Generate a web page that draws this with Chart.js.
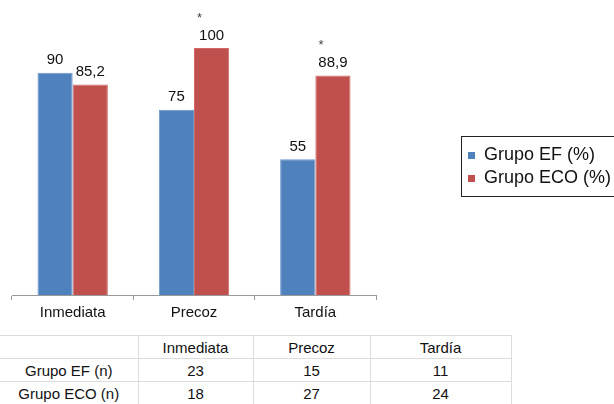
<!DOCTYPE html>
<html>
<head>
<meta charset="utf-8">
<script src="https://cdn.jsdelivr.net/npm/chart.js@4"></script>
<style>
  body { margin: 0; background: #fff; font-family: "Liberation Sans", Arial, sans-serif; }
  #wrap { position: relative; width: 614px; height: 404px; overflow: hidden; }
  #box { position: absolute; left: 0; top: 0; width: 614px; height: 330px; }
  table { position: absolute; left: 0; top: 335px; width: 511px; table-layout: fixed; border-collapse: collapse; font-size: 15px; color: #111; }
  td { border: 1px solid #dcdcdc; text-align: center; height: 22px; padding: 0; }
  td:first-child { border-left: none; }
</style>
</head>
<body>
<div id="wrap">
  <div id="box"><canvas id="barChart"></canvas></div>
  <table id="countTable"><colgroup><col style="width:138px"><col style="width:115px"><col style="width:117px"><col style="width:141px"></colgroup></table>
</div>
<script>
const categories = ["Inmediata", "Precoz", "Tardía"];
const efValues = [90, 75, 55];
const ecoValues = [85.2, 100, 88.9];
const ecoStars = ["", "*", "*"];
const tableRows = ["Grupo EF (n)", "Grupo ECO (n)"];
const efCounts = [23, 15, 11];
const ecoCounts = [18, 27, 24];

// table below the chart
const table = document.getElementById("countTable");
let html = "<tr><td></td>" + categories.map(c => "<td>" + c + "</td>").join("") + "</tr>";
[efCounts, ecoCounts].forEach((row, i) => {
  html += "<tr><td>" + tableRows[i] + "</td>" + row.map(v => "<td>" + v + "</td>").join("") + "</tr>";
});
table.insertAdjacentHTML("beforeend", html);

const fmt = v => String(v).replace(".", ",");

const labelPlugin = {
  id: "barLabels",
  afterDatasetsDraw(chart) {
    const ctx = chart.ctx;
    ctx.save();
    ctx.fillStyle = "#111";
    ctx.textAlign = "center";
    chart.data.datasets.forEach((ds, i) => {
      chart.getDatasetMeta(i).data.forEach((bar, j) => {
        ctx.font = "15px 'Liberation Sans', Arial";
        ctx.textBaseline = "bottom";
        ctx.fillText(fmt(ds.data[j]), bar.x, bar.y - 5);
        if (ds.stars && ds.stars[j]) {
          ctx.font = "13px 'Liberation Sans', Arial";
          ctx.fillStyle = "#444";
          ctx.fillText(ds.stars[j], bar.x - 12, bar.y - 23);
          ctx.fillStyle = "#111";
        }
      });
    });
    ctx.restore();
  }
};

const legendPlugin = {
  id: "boxLegend",
  afterDraw(chart) {
    const ctx = chart.ctx;
    const x0 = 461, y0 = 136, w = 170, h = 60;
    ctx.save();
    ctx.strokeStyle = "#222";
    ctx.lineWidth = 1;
    ctx.strokeRect(x0 + 0.5, y0 + 0.5, w, h);
    ctx.font = "18px 'Liberation Sans', Arial";
    ctx.textBaseline = "middle";
    chart.data.datasets.forEach((ds, i) => {
      const cy = y0 + 19 + i * 23;
      ctx.fillStyle = ds.backgroundColor;
      ctx.fillRect(x0 + 7, cy - 3, 7, 7);
      ctx.fillStyle = "#111";
      ctx.fillText(ds.label, x0 + 23, cy);
    });
    ctx.restore();
  }
};

new Chart("barChart", {
  type: "bar",
  data: {
    labels: categories,
    datasets: [
      { label: "Grupo EF (%)", data: efValues, backgroundColor: "#4F81BD", borderColor: "#6a96cc", borderWidth: 1 },
      { label: "Grupo ECO (%)", data: ecoValues, backgroundColor: "#C0504D", borderColor: "#cf6a67", borderWidth: 1, stars: ecoStars }
    ]
  },
  options: {
    animation: false,
    responsive: true,
    maintainAspectRatio: false,
    layout: { padding: { top: 48, left: 12, right: 238, bottom: 4 } },
    datasets: { bar: { categoryPercentage: 0.58, barPercentage: 1 } },
    plugins: { legend: { display: false }, tooltip: { enabled: false } },
    scales: {
      x: {
        grid: { drawOnChartArea: false, drawTicks: true, tickLength: 5, color: "#999", offset: true },
        border: { color: "#999" },
        ticks: { color: "#111", font: { size: 15, family: "'Liberation Sans', Arial" }, padding: 4 }
      },
      y: { display: false, min: 0, max: 100 }
    }
  },
  plugins: [labelPlugin, legendPlugin]
});
</script>
</body>
</html>
